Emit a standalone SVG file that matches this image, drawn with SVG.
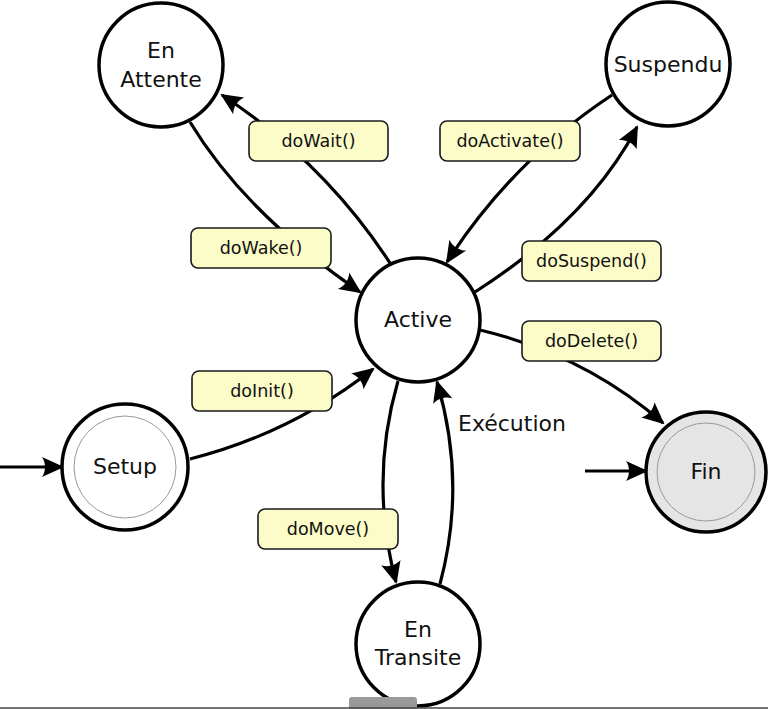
<svg xmlns="http://www.w3.org/2000/svg" width="768" height="709" viewBox="0 0 768 709">
  <defs>
    <marker id="arr" markerUnits="userSpaceOnUse" markerWidth="25" markerHeight="24" viewBox="-1 -12 25 24" refX="20" refY="0" orient="auto">
      <path d="M0,-10 L22,0 L0,10 C4,4 4,-4 0,-10 z" fill="#000"/>
    </marker>
  </defs>
  <style>
    .node { fill: #fff; stroke: #000; stroke-width: 3.5; }
    .inner { fill: none; stroke: #999; stroke-width: 1; }
    .ntext { font-family: "DejaVu Sans", sans-serif; font-size: 22px; fill: #111; text-anchor: middle; }
    .lbl rect { fill: #fbfcc8; stroke: #1a1a1a; stroke-width: 1.6; }
    .lbl text { font-family: "DejaVu Sans", sans-serif; font-size: 17.5px; fill: #111; text-anchor: middle; }
    .edge { fill: none; stroke: #000; stroke-width: 3.2; marker-end: url(#arr); }
  </style>
  <rect x="0" y="0" width="768" height="709" fill="#fff"/>

  <g id="connectors">
    <path class="edge" d="M390,263 Q324,162 222,95"/>
    <path class="edge" d="M190,122 Q245,213 360,292"/>
    <path class="edge" d="M612,95 Q512,161 447,262"/>
    <path class="edge" d="M475,292 Q589,219 637,127"/>
    <path class="edge" d="M480,330 Q585,355 663,423"/>
    <path class="edge" d="M190,459 Q292,433 373,369"/>
    <path class="edge" d="M398,381 Q369,481 396,582"/>
    <path class="edge" d="M440,584 Q467,483 437,382"/>
    <path class="edge" d="M0,467 L62,467"/>
    <path class="edge" d="M585,471 L646,471"/>
  </g>

  <g id="enattente">
    <circle class="node" cx="161" cy="65" r="62"/>
    <text class="ntext" x="161" y="58">En</text>
    <text class="ntext" x="161" y="87">Attente</text>
  </g>
  <g id="suspendu">
    <circle class="node" cx="668" cy="64" r="62"/>
    <text class="ntext" x="668" y="72">Suspendu</text>
  </g>
  <g id="active">
    <circle class="node" cx="418" cy="320" r="62"/>
    <text class="ntext" x="418" y="327">Active</text>
  </g>
  <g id="setup">
    <circle class="node" cx="125" cy="467" r="63"/>
    <circle class="inner" cx="125" cy="467" r="51"/>
    <text class="ntext" x="125" y="474">Setup</text>
  </g>
  <g id="fin">
    <circle class="node" cx="706" cy="472" r="60" style="fill:#e5e5e5"/>
    <circle class="inner" cx="706" cy="472" r="49"/>
    <text class="ntext" x="706" y="479">Fin</text>
  </g>
  <g id="entransite">
    <circle class="node" cx="418" cy="644" r="62"/>
    <text class="ntext" x="418" y="637">En</text>
    <text class="ntext" x="418" y="665">Transite</text>
  </g>

  <g id="labels">
    <g class="lbl" id="l-dowait"><rect x="249" y="121" width="139" height="40" rx="7"/><text x="318.5" y="147">doWait()</text></g>
    <g class="lbl" id="l-dowake"><rect x="191" y="228" width="140" height="40" rx="7"/><text x="261" y="254">doWake()</text></g>
    <g class="lbl" id="l-doactivate"><rect x="440" y="121" width="140" height="40" rx="7"/><text x="510" y="147">doActivate()</text></g>
    <g class="lbl" id="l-dosuspend"><rect x="522" y="241" width="139" height="40" rx="7"/><text x="591.5" y="267">doSuspend()</text></g>
    <g class="lbl" id="l-dodelete"><rect x="522" y="321" width="139" height="40" rx="7"/><text x="591.5" y="347">doDelete()</text></g>
    <g class="lbl" id="l-doinit"><rect x="192" y="371" width="140" height="40" rx="7"/><text x="262" y="397">doInit()</text></g>
    <g class="lbl" id="l-domove"><rect x="258" y="509" width="140" height="40" rx="7"/><text x="328" y="535">doMove()</text></g>
    <text x="458" y="431" style="font-family:'DejaVu Sans',sans-serif;font-size:22px;fill:#111">Exécution</text>
  </g>

  <g id="frame">
    <rect x="349" y="697" width="68" height="14" rx="3" fill="#999"/>
    <line x1="0" y1="708" x2="768" y2="708" stroke="#444" stroke-width="1.5"/>
  </g>
</svg>
